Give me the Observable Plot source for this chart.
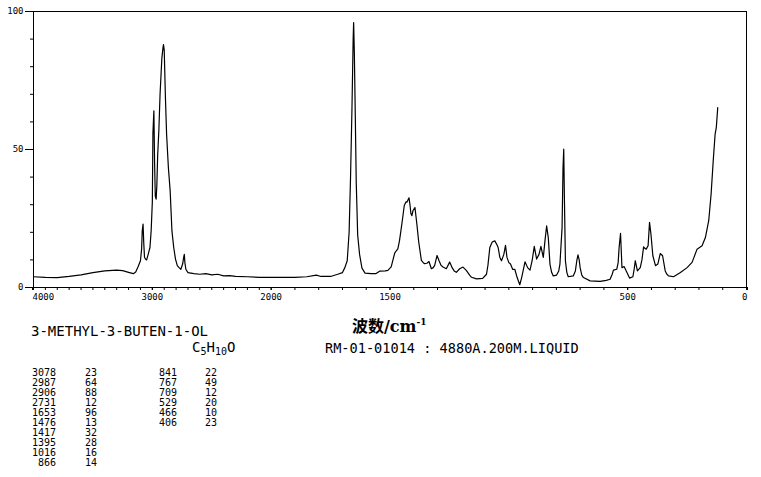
<!DOCTYPE html>
<html>
<head>
<meta charset="utf-8">
<script src="https://cdn.jsdelivr.net/npm/d3@7"></script>
<script src="https://cdn.jsdelivr.net/npm/@observablehq/plot@0.6"></script>
<style>
  html, body { margin: 0; padding: 0; background: #fff; }
  #wrap { position: relative; width: 761px; height: 477px; overflow: hidden; }
  #wrap > svg { position: absolute; left: 0; top: 0; }
  #overlay text { fill: #000; }
</style>
</head>
<body>
<div id="wrap"></div>
<script>
// ---- Spectrum (Raman), wavenumber cm-1 vs relative intensity ----
const waveNumbers = [
  4000,3900,3800,3700,3600,3500,3400,3300,3250,3200,3160,3140,3120,3100,3090,3085,3078,3072,3066,3058,
  3048,3035,3020,3010,3000,2995,2987,2981,2975,2968,2962,2955,2945,2935,2920,2910,2906,2900,2890,2880,
  2865,2850,2835,2820,2805,2790,2775,2760,2745,2736,2731,2726,2718,2700,2650,2600,2550,2500,2450,2400,
  2350,2300,2200,2100,2000,1950,1900,1850,1810,1790,1750,1720,1700,1690,1680,1672,1666,1660,1655,1653,
  1650,1646,1642,1636,1628,1618,1605,1580,1560,1544,1520,1509,1495,1488,1480,1476,1467,1460,1454,1447,
  1440,1433,1429,1420,1416,1412,1408,1403,1395,1387,1379,1368,1360,1354,1345,1336,1326,1318,1312,1302,
  1294,1285,1277,1263,1249,1238,1230,1221,1207,1193,1179,1165,1157,1136,1110,1094,1088,1080,1070,1059,
  1050,1045,1038,1031,1021,1014,1008,1000,993,984,975,965,954,946,940,932,921,911,902,893,
  883,873,865,855,848,841,834,827,820,813,799,790,785,776,772,769,766,762,756,750,
  729,720,714,709,704,700,693,686,658,616,590,574,565,560,546,540,536,530,524,515,
  506,492,478,472,468,459,447,440,433,428,422,414,408,402,394,383,373,363,353,342,
  335,328,307,278,250,229,208,187,173,159,149,140,132,127,121
];
const intensities = [
  3.9,3.7,3.6,4.0,4.6,5.4,6.0,6.3,6.1,5.5,5.0,5.6,7.5,9.7,14,20.5,23,16,11,10.3,
  10,12,14.5,20.5,31,56,64,45,33,32,37,48,57,70,83,87,88,86,69,55.5,
  43.5,35,20.5,14.5,10.3,7.9,7.2,6.6,8.5,11,12,9,6.6,5.4,5.0,4.8,5.0,4.6,4.8,4.2,
  4.3,4.0,3.9,3.7,3.7,3.7,3.7,3.9,4.5,4.0,4.0,4.8,5.4,7.2,9.7,20,40,65,90,96,
  85,62,38,19,12,7,5.2,5.0,5.0,5.9,6.0,6.2,7.5,9.8,12.5,13,14,17,20.6,25,
  29.7,31,30.9,32.5,30,26.8,26,27.9,29,23,16.4,9.8,9,8.6,8.8,9.4,6.8,7.2,8.0,11.6,
  9.8,8,7.4,6.8,9.2,7.1,6,5.5,6.8,7.4,6.2,4.5,3.7,3.1,3.3,4.8,8,14.5,16.5,16.9,
  15.5,14.5,11,9.7,12,15.3,11,9,8.5,6.6,6.6,3.6,1.0,3.6,6,9.3,7.2,6.3,9.7,14.9,
  10.3,12,14.9,10.9,16.9,22.3,18.1,8.5,5.5,4.2,4.5,6,8.5,21.7,43.5,50.1,31.4,9.7,5.5,3.9,
  4.2,6,9.7,11.8,10,7.2,4.5,3.6,2.4,2.2,2.6,3.0,4.8,6.3,6.6,9,14.5,19.6,7.2,7.6,
  6.0,3.4,3.9,7,9.7,6.0,7.2,10,14.7,14.2,13.9,15.1,23.6,19.3,11.5,7.9,8.5,12.3,11.5,6.0,
  4.8,4.2,3.9,5.4,7.2,9.1,13.9,15.1,18.1,24.2,33.8,45.9,55.6,58,65.2
];

// ---- Axis tick values / labels ----
const xMinorTicks = d3.range(0, 4001, 100);
const xLabelTicksMid = [3000, 2000, 1500, 500];
const xLabelTickLeft = [4000];
const xLabelTickRight = [0];
const yMinorTicks = d3.range(0, 101, 10);
const yLabelTicks = [0, 50, 100];

// ---- Texts ----
const compoundName = "3-METHYL-3-BUTEN-1-OL";
const xAxisTitle = "波数/cm";
const sampleInfo = "RM-01-01014 : 4880A.200M.LIQUID";
const formulaParts = [["C", false], ["5", true], ["H", false], ["10", true], ["O", false]];

// ---- Peak table ----
const peakWnA = [3078, 2987, 2906, 2731, 1653, 1476, 1417, 1395, 1016, 866];
const peakIntA = [23, 64, 88, 12, 96, 13, 32, 28, 16, 14];
const peakWnB = [841, 767, 709, 529, 466, 406];
const peakIntB = [22, 49, 12, 20, 10, 23];

const spectrum = waveNumbers.map((wn, i) => ({wn, v: intensities[i]}));

const W = 761, H = 305, ML = 33, MR = 15, MT = 11, MB = 18;
const fmt = d3.format("d");

const chart = Plot.plot({
  width: W,
  height: H,
  marginLeft: ML,
  marginRight: MR,
  marginTop: MT,
  marginBottom: MB,
  style: {background: "#fff", color: "#000", fontFamily: "'DejaVu Sans Mono', monospace", fontSize: "9px"},
  x: {type: "linear", domain: [4000, 2000, 0], range: [ML, ML + (W - ML - MR) / 3, W - MR]},
  y: {domain: [0, 100]},
  marks: [
    Plot.frame({stroke: "#000", strokeWidth: 1}),
    Plot.axisX({ticks: xMinorTicks, tickSize: 3, tickFormat: () => "", label: null}),
    Plot.axisX({ticks: xLabelTicksMid, tickSize: 3, tickPadding: 3, tickFormat: fmt, label: null, textAnchor: "middle"}),
    Plot.axisX({ticks: xLabelTickLeft, tickSize: 3, tickPadding: 3, tickFormat: fmt, label: null, textAnchor: "start", dx: -1}),
    Plot.axisX({ticks: xLabelTickRight, tickSize: 3, tickPadding: 3, tickFormat: fmt, label: null, textAnchor: "end", dx: 1}),
    Plot.axisY({ticks: yMinorTicks, tickSize: 3, tickFormat: () => "", label: null}),
    Plot.axisY({ticks: yLabelTicks, tickSize: 8, tickPadding: 2, tickFormat: fmt, label: null}),
    Plot.line(spectrum, {x: "wn", y: "v", stroke: "#000", strokeWidth: 1.2})
  ]
});

const wrap = document.getElementById("wrap");
wrap.appendChild(chart);

// ---- Overlay texts below the chart ----
const svg = d3.select(wrap).append("svg")
  .attr("id", "overlay")
  .attr("width", W).attr("height", 477)
  .style("pointer-events", "none");

const mono = "'DejaVu Sans Mono', monospace";

svg.append("text").attr("x", 31).attr("y", 336)
  .attr("font-family", mono).attr("font-size", 14).text(compoundName);

// x-axis title 波数/cm-1
const t = svg.append("text").attr("x", 352).attr("y", 332)
  .attr("font-size", 16).attr("font-weight", "bold");
t.append("tspan").attr("font-family", "'Noto Sans CJK SC'").text(xAxisTitle.slice(0, 2));
t.append("tspan").attr("font-family", "'DejaVu Serif', serif").text(xAxisTitle.slice(2));
t.append("tspan").attr("font-family", "'DejaVu Serif', serif").attr("font-size", 9)
  .attr("dy", -7).text("-1");

// formula C5H10O
const f = svg.append("text").attr("x", 192).attr("y", 352)
  .attr("font-family", mono).attr("font-size", 14);
let shifted = false;
formulaParts.forEach(([s, sub]) => {
  let dy = 0;
  if (sub && !shifted) { dy = 3; shifted = true; }
  else if (!sub && shifted) { dy = -3; shifted = false; }
  f.append("tspan").attr("font-size", sub ? 10 : 14).attr("dy", dy).text(s);
});

svg.append("text").attr("x", 325).attr("y", 353)
  .attr("font-family", mono).attr("font-size", 13.6).text(sampleInfo);

// peak table
function column(values, xRight) {
  svg.append("g").selectAll("text").data(values).join("text")
    .attr("x", xRight).attr("y", (d, i) => 375.5 + i * 10)
    .attr("text-anchor", "end")
    .attr("font-family", mono).attr("font-size", 10)
    .text(d => d);
}
column(peakWnA, 56);
column(peakIntA, 97);
column(peakWnB, 177);
column(peakIntB, 217);
</script>
</body>
</html>
